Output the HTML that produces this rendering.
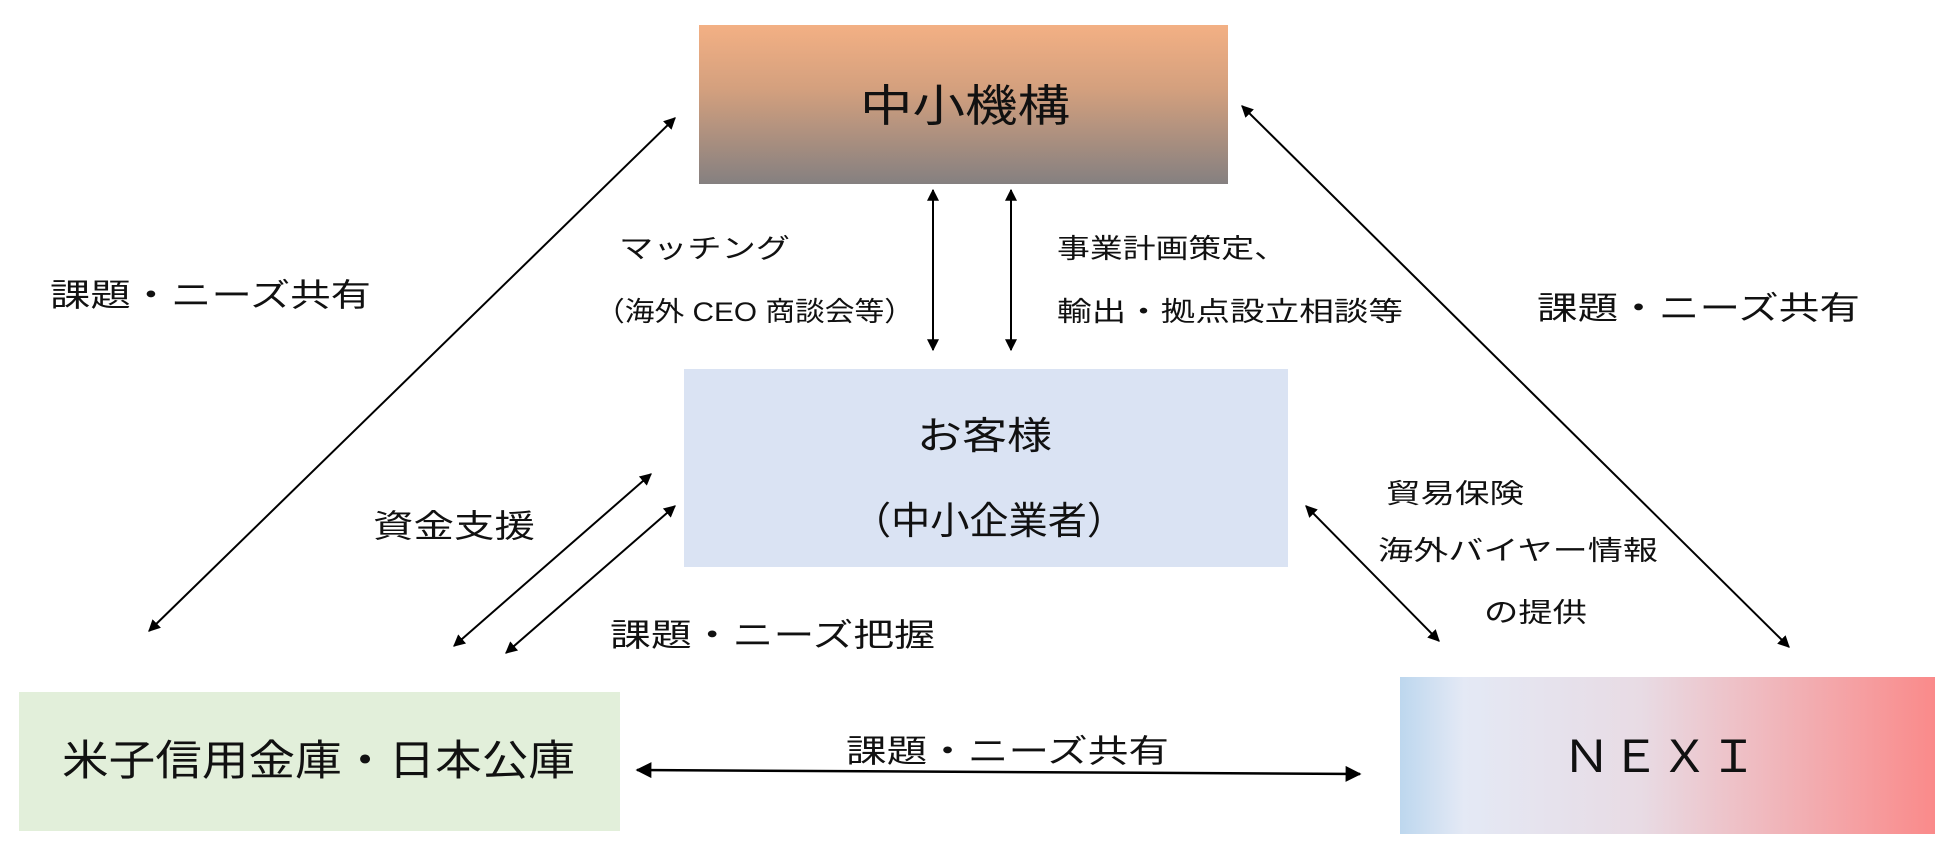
<!DOCTYPE html>
<html><head><meta charset="utf-8"><style>
html,body{margin:0;padding:0;background:#fff;}
svg{display:block;}
text{font-family:"Liberation Sans","Noto Sans CJK JP",sans-serif;fill:#111;}
</style></head><body>
<svg width="1950" height="854" viewBox="0 0 1950 854" xmlns="http://www.w3.org/2000/svg">
<defs>
<linearGradient id="gTop" x1="0" y1="0" x2="0" y2="1">
<stop offset="0" stop-color="#f3b084"/><stop offset="0.4" stop-color="#d4a07e"/><stop offset="1" stop-color="#858080"/>
</linearGradient>
<linearGradient id="gNexi" x1="0" y1="0" x2="1" y2="0">
<stop offset="0" stop-color="#bdd7ee"/><stop offset="0.12" stop-color="#e4e9f5"/><stop offset="0.45" stop-color="#e8dbe4"/><stop offset="1" stop-color="#fa8a8a"/>
</linearGradient>
<marker id="ah" viewBox="0 0 10 10" refX="9" refY="5" markerWidth="12" markerHeight="12" markerUnits="userSpaceOnUse" orient="auto-start-reverse">
<path d="M0,0 L10,5 L0,10 z" fill="#000"/>
</marker>
<marker id="ah2" viewBox="0 0 10 10" refX="9" refY="5" markerWidth="16" markerHeight="16" markerUnits="userSpaceOnUse" orient="auto-start-reverse">
<path d="M0,0 L10,5 L0,10 z" fill="#000"/>
</marker>
</defs>

<rect x="699" y="25" width="529" height="159" fill="url(#gTop)"/>
<rect x="684" y="369" width="604" height="198" fill="#dae3f3"/>
<rect x="19" y="692" width="601" height="139" fill="#e2efda"/>
<rect x="1400" y="677" width="535" height="157" fill="url(#gNexi)"/>

<g stroke="#000" stroke-width="2" fill="none">
<line x1="675" y1="118" x2="149" y2="631" marker-start="url(#ah)" marker-end="url(#ah)"/>
<line x1="1242" y1="106" x2="1789" y2="647" marker-start="url(#ah)" marker-end="url(#ah)"/>
<line x1="933" y1="190" x2="933" y2="350" marker-start="url(#ah)" marker-end="url(#ah)"/>
<line x1="1011" y1="190" x2="1011" y2="350" marker-start="url(#ah)" marker-end="url(#ah)"/>
<line x1="651" y1="474" x2="454" y2="646" marker-start="url(#ah)" marker-end="url(#ah)"/>
<line x1="675" y1="506" x2="506" y2="653" marker-start="url(#ah)" marker-end="url(#ah)"/>
<line x1="1306" y1="506" x2="1439" y2="641" marker-start="url(#ah)" marker-end="url(#ah)"/>
<line x1="637" y1="770" x2="1360" y2="774" stroke-width="2.5" marker-start="url(#ah2)" marker-end="url(#ah2)"/>
</g>

<text x="860" y="121" font-size="44" textLength="210" lengthAdjust="spacingAndGlyphs">中小機構</text>
<text x="50" y="306" font-size="32" textLength="321" lengthAdjust="spacingAndGlyphs">課題・ニーズ共有</text>
<text x="1537" y="319" font-size="32" textLength="323" lengthAdjust="spacingAndGlyphs">課題・ニーズ共有</text>
<text x="619" y="258" font-size="27" textLength="171" lengthAdjust="spacingAndGlyphs">マッチング</text>
<text x="595" y="321" font-size="27" textLength="319" lengthAdjust="spacingAndGlyphs">（海外 CEO 商談会等）</text>
<text x="1057" y="258" font-size="27" textLength="230" lengthAdjust="spacingAndGlyphs">事業計画策定、</text>
<text x="1057" y="321" font-size="27" textLength="346" lengthAdjust="spacingAndGlyphs">輸出・拠点設立相談等</text>
<text x="917" y="449" font-size="38" textLength="135" lengthAdjust="spacingAndGlyphs">お客様</text>
<text x="852" y="534" font-size="38" textLength="274" lengthAdjust="spacingAndGlyphs">（中小企業者）</text>
<text x="373" y="537" font-size="32" textLength="162" lengthAdjust="spacingAndGlyphs">資金支援</text>
<text x="610" y="646" font-size="32" textLength="325" lengthAdjust="spacingAndGlyphs">課題・ニーズ把握</text>
<text x="1386" y="503" font-size="27" textLength="138" lengthAdjust="spacingAndGlyphs">貿易保険</text>
<text x="1378" y="560" font-size="27" textLength="280" lengthAdjust="spacingAndGlyphs">海外バイヤー情報</text>
<text x="1484" y="622" font-size="27" textLength="103" lengthAdjust="spacingAndGlyphs">の提供</text>
<text x="62" y="775" font-size="42" textLength="513" lengthAdjust="spacingAndGlyphs">米子信用金庫・日本公庫</text>
<text x="846" y="762" font-size="32" textLength="323" lengthAdjust="spacingAndGlyphs">課題・ニーズ共有</text>
<text x="1562" y="772" font-size="44" textLength="196" lengthAdjust="spacingAndGlyphs">ＮＥＸＩ</text>
</svg>
</body></html>
